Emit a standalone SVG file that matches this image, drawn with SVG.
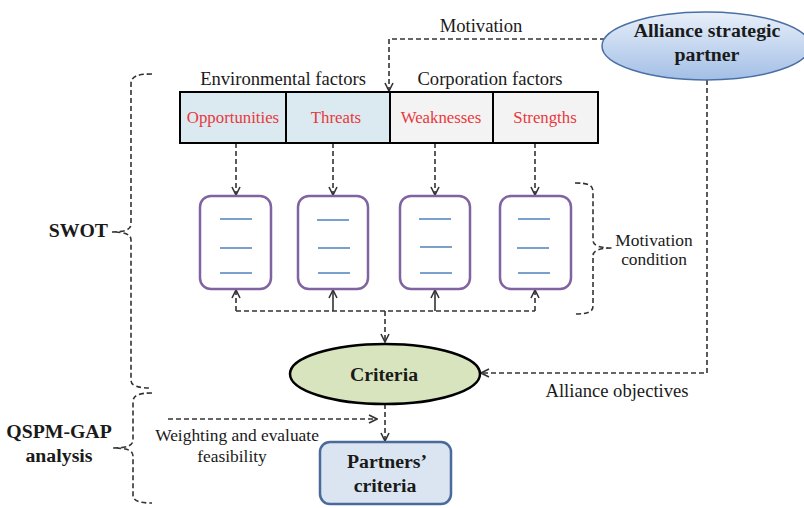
<svg xmlns="http://www.w3.org/2000/svg" width="804" height="508" viewBox="0 0 804 508" font-family="'Liberation Serif', 'DejaVu Serif', serif">
<style>
text{font-family:'Liberation Serif','DejaVu Serif',serif;fill:#1a1a1a}
.red{fill:#e8383d;font-size:16.8px}
.lbl{font-size:18.6px}
.sm{font-size:17.4px}
.bt{font-size:19.8px;font-weight:bold}
.dash{fill:none;stroke:#333;stroke-width:1.6;stroke-dasharray:5,3}
.solid{fill:none;stroke:#333;stroke-width:1.6}
.card{fill:#fff;stroke:#8064a2;stroke-width:2.5}
.ln{stroke:#4f81bd;stroke-width:1.3}
</style>
<defs>
<marker id="arr" viewBox="0 0 10 10" refX="9" refY="5" markerWidth="10" markerHeight="10" markerUnits="userSpaceOnUse" orient="auto">
<path d="M1,1 L9,5 L1,9" fill="none" stroke="#333" stroke-width="1.6"/>
</marker>
<linearGradient id="bg" x1="0" y1="0" x2="0" y2="1">
<stop offset="0" stop-color="#e8eff9"/>
<stop offset="1" stop-color="#a3bfe6"/>
</linearGradient>
</defs>
<rect width="804" height="508" fill="#fff"/>

<g id="connectors">
<path class="dash" d="M605,39 H389 V91" marker-end="url(#arr)"/>
<path class="dash" d="M236,143 V195" marker-end="url(#arr)"/>
<path class="dash" d="M333,143 V195" marker-end="url(#arr)"/>
<path class="dash" d="M435,143 V195" marker-end="url(#arr)"/>
<path class="dash" d="M535,143 V195" marker-end="url(#arr)"/>
<path class="dash" d="M236,311 H535"/>
<path class="dash" d="M236,311 V290" marker-end="url(#arr)"/>
<path class="solid" d="M333,311 V290" marker-end="url(#arr)"/>
<path class="solid" d="M435,311 V290" marker-end="url(#arr)"/>
<path class="dash" d="M535,311 V290" marker-end="url(#arr)"/>
<path class="dash" d="M385,311 V342" marker-end="url(#arr)"/>
<path class="dash" d="M707,80 V373 H481" marker-end="url(#arr)"/>
<path class="dash" d="M168,419 H377" marker-end="url(#arr)"/>
<path class="dash" d="M385,404 V441" marker-end="url(#arr)"/>
</g>

<g id="braces">
<path class="dash" d="M152,74 C138,74 131,76 131,84 V224 C131,230 124,232 112,232 C124,232 131,234 131,240 V380 C131,386 138,388 152,388"/>
<path class="dash" d="M152,393 C139,393 133,395 133,402 V440 C133,446 126,448 113,448 C126,448 133,450 133,456 V495 C133,501 139,503 152,503"/>
<path class="dash" d="M575,183 C588,183 593,185 593,192 V240 C593,246 600,248 613,248 C600,248 593,250 593,256 V306 C593,312 588,314 575,314"/>
</g>

<g id="alliance">
<ellipse cx="706" cy="46" rx="104" ry="34" fill="url(#bg)" stroke="#4a6fa5" stroke-width="1.5"/>
<text class="bt" x="707" y="37" text-anchor="middle">Alliance strategic</text>
<text class="bt" x="707" y="61" text-anchor="middle">partner</text>
</g>

<g id="labels">
<text class="lbl" x="481" y="32" text-anchor="middle">Motivation</text>
<text class="lbl" x="283" y="85" text-anchor="middle">Environmental factors</text>
<text class="lbl" x="490" y="85" text-anchor="middle">Corporation factors</text>
<text class="sm" x="654" y="246" text-anchor="middle">Motivation</text>
<text class="sm" x="654" y="265" text-anchor="middle">condition</text>
<text class="lbl" x="617" y="397" text-anchor="middle">Alliance objectives</text>
<text class="sm" x="237" y="441" text-anchor="middle" font-size="18">Weighting and evaluate</text>
<text class="sm" x="232" y="462" text-anchor="middle" font-size="18">feasibility</text>
<text class="bt" x="108" y="237" text-anchor="end">SWOT</text>
<text class="bt" x="59" y="438" text-anchor="middle">QSPM-GAP</text>
<text class="bt" x="59" y="462" text-anchor="middle">analysis</text>
</g>

<g id="swot-table">
<rect x="180" y="92" width="106" height="51" fill="#dbeaf0"/>
<rect x="286" y="92" width="104" height="51" fill="#dbeaf0"/>
<rect x="390" y="92" width="103" height="51" fill="#f3f3f3"/>
<rect x="493" y="92" width="105" height="51" fill="#f3f3f3"/>
<rect x="180" y="92" width="418" height="51" fill="none" stroke="#000" stroke-width="2"/>
<path d="M286,92 V143 M390,92 V143 M493,92 V143" stroke="#000" stroke-width="2"/>
<text class="red" x="233" y="123" text-anchor="middle">Opportunities</text>
<text class="red" x="336" y="123" text-anchor="middle">Threats</text>
<text class="red" x="441" y="123" text-anchor="middle">Weaknesses</text>
<text class="red" x="545" y="123" text-anchor="middle">Strengths</text>
</g>

<g id="card1">
<rect class="card" x="200" y="196" width="71" height="93" rx="11"/>
<path class="ln" d="M220,219 H252 M220,248 H252 M220,273 H252"/>
</g>
<g id="card2">
<rect class="card" x="298" y="196" width="70" height="93" rx="11"/>
<path class="ln" d="M317,220 H349 M318,248 H350 M318,273 H350"/>
</g>
<g id="card3">
<rect class="card" x="400" y="196" width="70" height="93" rx="11"/>
<path class="ln" d="M419,219 H451 M420,247 H452 M420,273 H452"/>
</g>
<g id="card4">
<rect class="card" x="500" y="196" width="71" height="93" rx="11"/>
<path class="ln" d="M518,219 H550 M517,248 H549 M518,273 H550"/>
</g>

<g id="criteria">
<ellipse cx="385" cy="374" rx="95" ry="30" fill="#d7e4bd" stroke="#000" stroke-width="2.5"/>
<text class="bt" x="384" y="381" text-anchor="middle">Criteria</text>
</g>

<g id="partners">
<rect x="320" y="442" width="131" height="62" rx="10" fill="#dbe5f1" stroke="#4a6a9a" stroke-width="2.5"/>
<text class="bt" x="387" y="468" text-anchor="middle">Partners’</text>
<text class="bt" x="385" y="492" text-anchor="middle">criteria</text>
</g>
</svg>
